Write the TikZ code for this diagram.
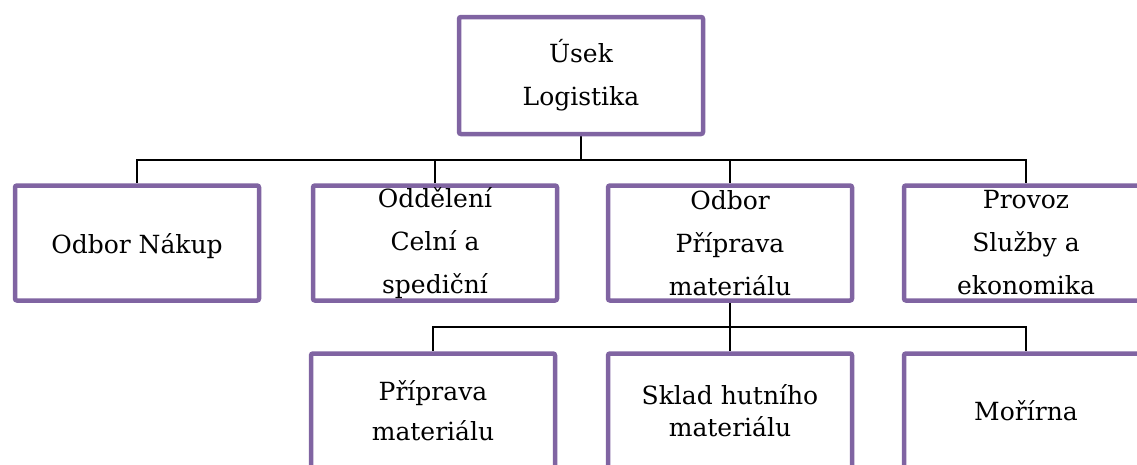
\documentclass[tikz,border=0pt]{standalone}
\usepackage{fontspec}
\setmainfont{DejaVu Serif}
\definecolor{boxpurple}{RGB}{128,100,162}
\pgfdeclarelayer{bg}
\pgfsetlayers{bg,main}
\begin{document}
\begin{tikzpicture}[x=1pt,y=-1pt,
  box/.style={draw=boxpurple, line width=4.5pt, rounded corners=2pt, fill=white,
    minimum width=244pt, minimum height=115pt, inner sep=0pt},
  lbl/.style={align=center, inner sep=0pt, font=\fontsize{25}{43}\selectfont},
  link/.style={draw=black, line width=2.5pt}]
\useasboundingbox (0,0) rectangle (1137,464);
\clip (0,0) rectangle (1137,464);

% boxes
\node[box, minimum height=117pt] (top) at (581,75.5) {};
\node[box] (n1) at (137,243) {};
\node[box] (n2) at (435,243) {};
\node[box] (n3) at (730,243) {};
\node[box] (n4) at (1026,243) {};
\node[box] (m1) at (433,411) {};
\node[box] (m2) at (730,411) {};
\node[box] (m3) at (1026,411) {};

% labels
\node[lbl] (t0) at (top) {Úsek\\Logistika};
\node[lbl, yshift=-3pt] (t1) at (n1) {Odbor Nákup};
\node[lbl] (t2) at (n2) {Oddělení\\Celní a\\spediční};
\node[lbl] (t3) at (n3) {Odbor\\Příprava\\materiálu};
\node[lbl] (t4) at (n4) {Provoz\\Služby a\\ekonomika};
\node[lbl, font=\fontsize{25}{40}\selectfont] (s1) at (m1) {Příprava\\materiálu};
\node[lbl, font=\fontsize{25}{32}\selectfont] (s2) at (m2) {Sklad hutního\\materiálu};
\node[lbl] (s3) at (m3) {Mořírna};

% connectors
\coordinate (busA) at (581,160);
\coordinate (busB) at (730,327);
\begin{pgfonlayer}{bg}
  \draw[link] (top.south) -- (busA);
  \draw[link] (busA) -| (n1.north);
  \draw[link] (busA) -| (n2.north);
  \draw[link] (busA) -| (n3.north);
  \draw[link] (busA) -| (n4.north);
  \draw[link] (n3.south) -- (m2.north);
  \draw[link] (busB) -| (m1.north);
  \draw[link] (busB) -| (m3.north);
\end{pgfonlayer}
\end{tikzpicture}
\end{document}
